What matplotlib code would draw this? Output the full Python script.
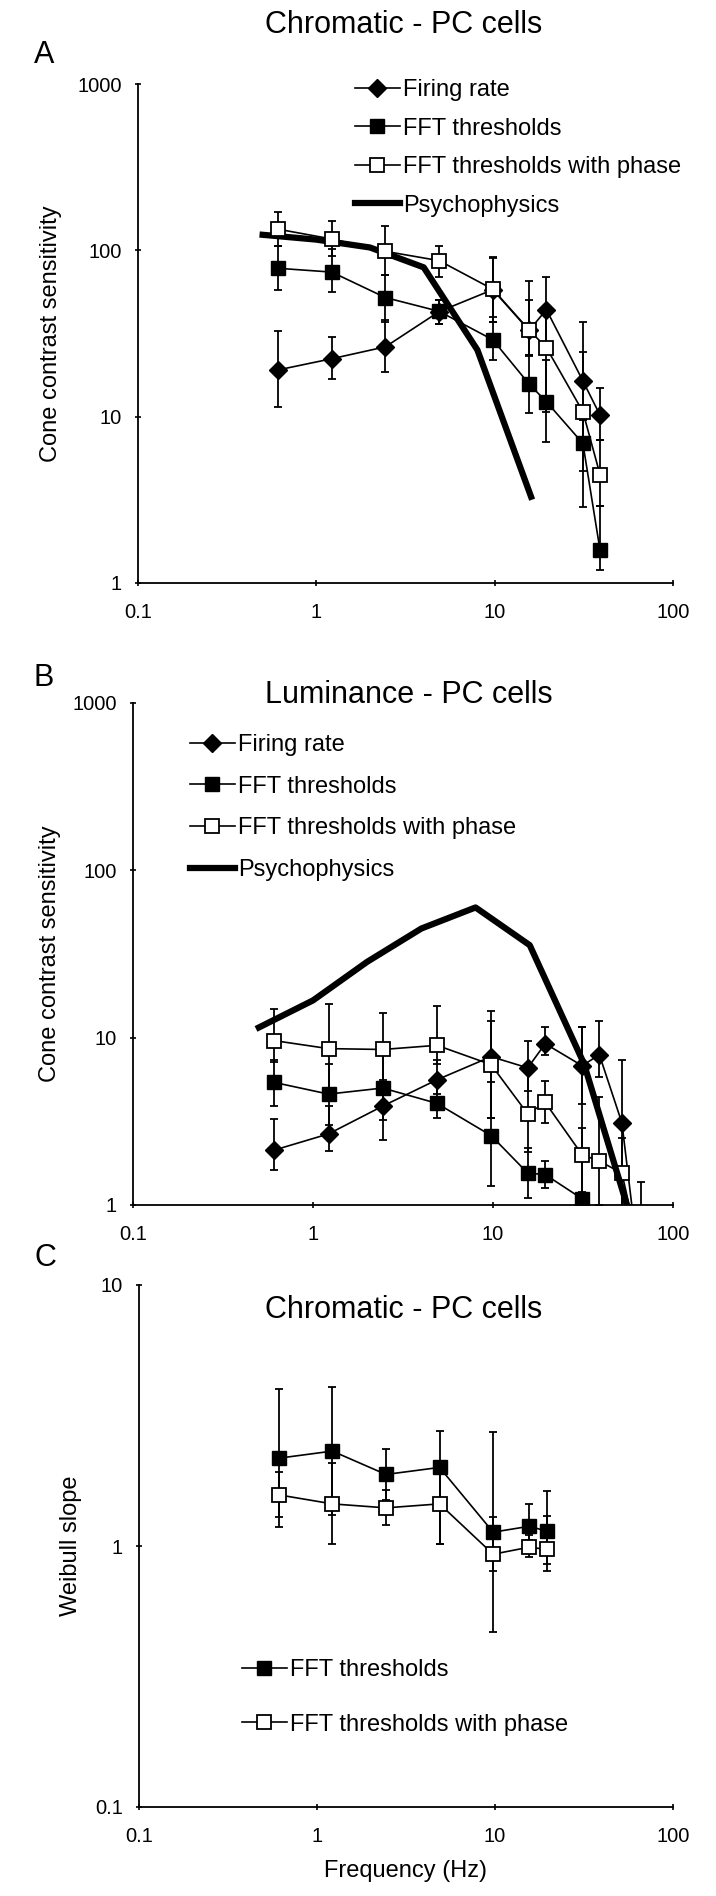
import matplotlib
matplotlib.use('Agg')
import matplotlib.pyplot as plt
from matplotlib.lines import Line2D

plt.rcParams['font.family'] = ['Liberation Sans', 'DejaVu Sans']

W, H = 716, 1896

# ---------------- data ----------------
freq = [0.61, 1.22, 2.44, 4.88, 9.76, 15.6, 19.5, 31.25, 39.0]

# Panel A: chromatic
A_fire = [19.1, 22.3, 26.3, 42.8, 58.0, 33.0, 44.0, 16.4, 10.2]
A_fire_lo = [11.5, 16.8, 18.6, 36.0, 37.0, 23.0, 26.0, 9.5, 7.2]
A_fire_hi = [32.6, 30.0, 38.0, 50.0, 90.0, 50.0, 69.6, 37.0, 14.8]

A_fft = [78.0, 74.0, 52.0, 43.0, 29.0, 15.7, 12.3, 6.9, 1.57]
A_fft_lo = [58.0, 56.0, 37.0, 36.0, 22.0, 10.5, 7.0, 2.85, 1.2]
A_fft_hi = [106.0, 102.0, 71.0, 50.0, 40.0, 23.4, 22.0, 11.0, 2.9]

A_ph = [134.0, 117.0, 98.6, 86.7, 58.4, 33.2, 26.0, 10.7, 4.47]
A_ph_lo = [106.0, 92.0, 71.0, 69.0, 37.0, 23.6, 10.7, 4.7, 2.9]
A_ph_hi = [170.0, 150.0, 141.0, 106.0, 90.6, 65.0, 45.0, 24.6, 7.2]

psy_freq_A = [0.5, 1.0, 2.0, 4.0, 8.0, 16.0]
psy_A = [124.0, 116.0, 104.0, 79.0, 25.2, 3.3]

# Panel B: luminance
freq_B_fire = [0.61, 1.22, 2.44, 4.88, 9.76, 15.6, 19.5, 31.25, 39.0, 52.0, 62.5]
B_fire = [2.13, 2.66, 3.9, 5.6, 7.7, 6.6, 9.2, 6.8, 7.9, 3.1, 0.6]
B_fire_lo = [1.61, 2.1, 2.46, 4.6, 3.3, 4.8, 7.9, 4.0, 5.8, 0.5, 0.4]
B_fire_hi = [3.26, 3.9, 5.6, 7.4, 12.6, 9.6, 11.6, 11.6, 12.6, 7.4, 0.9]

freq_B_fft = [0.61, 1.22, 2.44, 4.88, 9.76, 15.6, 19.5, 31.25, 39.0]
B_fft = [5.4, 4.6, 5.0, 4.05, 2.6, 1.55, 1.52, 1.09, 0.6]
B_fft_lo = [3.9, 3.0, 3.2, 3.3, 1.3, 1.1, 1.27, 0.5, 0.3]
B_fft_hi = [7.4, 7.0, 8.5, 5.4, 5.4, 2.2, 1.83, 2.9, 0.9]

freq_B_ph = [0.61, 1.22, 2.44, 4.88, 9.76, 15.6, 19.5, 31.25, 39.0, 52.0, 66.0]
B_ph = [9.6, 8.6, 8.5, 9.0, 6.9, 3.5, 4.1, 2.0, 1.83, 1.55, 0.5]
B_ph_lo = [7.2, 5.0, 5.0, 7.0, 3.3, 2.07, 3.1, 1.2, 1.0, 0.8, 0.3]
B_ph_hi = [14.9, 15.8, 14.0, 15.5, 14.5, 6.4, 5.5, 11.6, 4.4, 2.5, 1.38]

psy_freq_B = [0.5, 1.0, 2.0, 4.0, 8.0, 16.0, 32.0, 64.0]
psy_B = [11.5, 16.7, 28.4, 44.9, 60.0, 35.7, 7.0, 0.6]

# Panel C: Weibull slope
freq_C = [0.61, 1.22, 2.44, 4.88, 9.76, 15.6, 19.5]
C_fft = [2.17, 2.31, 1.88, 2.0, 1.13, 1.19, 1.14]
C_fft_lo = [1.29, 1.32, 1.5, 1.02, 0.8, 1.05, 0.85]
C_fft_hi = [4.0, 4.08, 2.35, 2.76, 2.74, 1.45, 1.62]

C_ph = [1.57, 1.45, 1.40, 1.45, 0.93, 0.99, 0.97]
C_ph_lo = [1.18, 1.02, 1.2, 1.02, 0.47, 0.91, 0.8]
C_ph_hi = [1.92, 2.08, 1.64, 1.95, 1.29, 1.1, 1.3]

x_ticks = [0.1, 1, 10, 100]
x_ticklabels = ['0.1', '1', '10', '100']
y_ticks_AB = [1, 10, 100, 1000]
y_ticklabels_AB = ['1', '10', '100', '1000']
y_ticks_C = [0.1, 1, 10]
y_ticklabels_C = ['0.1', '1', '10']

labels = ['Firing rate', 'FFT thresholds', 'FFT thresholds with phase', 'Psychophysics']

# ---------------- styles ----------------
fig = plt.figure(figsize=(W / 100, H / 100), dpi=100)

def add_ax(left, right, top, bottom):
    return fig.add_axes([left / W, 1 - bottom / H, (right - left) / W, (bottom - top) / H])

STY = {
    'fire': dict(marker='D', ms=9, mfc='black', mec='black'),
    'fft': dict(marker='s', ms=10.5, mfc='black', mec='black'),
    'ph': dict(marker='s', ms=9.5, mfc='white', mec='black', mew=1.3),
}

def series(ax, x, y, lo, hi, key, z):
    yerr = [[a - b for a, b in zip(y, lo)], [b - a for a, b in zip(y, hi)]]
    ax.errorbar(x, y, yerr=yerr, color='black', lw=1.2, elinewidth=1.3,
                capsize=3.2, capthick=1.3, zorder=z, **STY[key])

def style_axes(ax, yticks, ylabels, ylim, left_px, width_px, ylab_px, ylab):
    ax.set_xscale('log')
    ax.set_yscale('log')
    ax.set_xlim(0.1, 100)
    ax.set_ylim(*ylim)
    ax.set_xticks(x_ticks)
    ax.set_xticklabels(x_ticklabels)
    ax.set_yticks(yticks)
    ax.set_yticklabels(ylabels)
    ax.minorticks_off()
    for s in ['top', 'right']:
        ax.spines[s].set_visible(False)
    for s in ['left', 'bottom']:
        ax.spines[s].set_linewidth(1.3)
    ax.tick_params(axis='both', direction='inout', length=5, width=1.2, labelsize=14.5)
    ax.tick_params(axis='x', pad=12)
    ax.tick_params(axis='y', pad=9)
    ax.set_ylabel(ylab, fontsize=17)
    ax.yaxis.set_label_coords((ylab_px + 11 - left_px) / width_px, 0.5)

def legend_handles(keys):
    hs = []
    for k in keys:
        if k == 'psy':
            hs.append(Line2D([], [], color='black', lw=4.5))
        else:
            hs.append(Line2D([], [], color='black', lw=1.2, **STY[k]))
    return hs

# ---------------- Panel A ----------------
axA = add_ax(138, 673, 84, 583)
style_axes(axA, y_ticks_AB, y_ticklabels_AB, (1, 1000), 138, 535, 51, 'Cone contrast sensitivity')
axA.plot(psy_freq_A, psy_A, color='black', lw=4.5, zorder=2)
series(axA, freq, A_fire, A_fire_lo, A_fire_hi, 'fire', 3)
series(axA, freq, A_fft, A_fft_lo, A_fft_hi, 'fft', 4)
series(axA, freq, A_ph, A_ph_lo, A_ph_hi, 'ph', 5)
axA.legend(legend_handles(['fire', 'fft', 'ph', 'psy']), labels, loc='upper left',
           bbox_to_anchor=(355 / W, 1 - 79 / H), bbox_transform=fig.transFigure,
           frameon=False, fontsize=17, handlelength=1.9, handletextpad=0.15,
           labelspacing=0.7, numpoints=1, borderpad=0, borderaxespad=0)
fig.text(404 / W, 1 - 25 / H, 'Chromatic - PC cells', fontsize=22, ha='center', va='center')
fig.text(34 / W, 1 - 55 / H, 'A', fontsize=22, ha='left', va='center')

# ---------------- Panel B ----------------
axB = add_ax(133, 673, 703, 1205)
style_axes(axB, y_ticks_AB, y_ticklabels_AB, (1, 1000), 133, 540, 50, 'Cone contrast sensitivity')
axB.plot(psy_freq_B, psy_B, color='black', lw=4.5, zorder=6)
series(axB, freq_B_fire, B_fire, B_fire_lo, B_fire_hi, 'fire', 3)
series(axB, freq_B_fft, B_fft, B_fft_lo, B_fft_hi, 'fft', 4)
series(axB, freq_B_ph, B_ph, B_ph_lo, B_ph_hi, 'ph', 5)
axB.legend(legend_handles(['fire', 'fft', 'ph', 'psy']), labels, loc='upper left',
           bbox_to_anchor=(190 / W, 1 - 734 / H), bbox_transform=fig.transFigure,
           frameon=False, fontsize=17, handlelength=1.9, handletextpad=0.15,
           labelspacing=0.83, numpoints=1, borderpad=0, borderaxespad=0)
fig.text(409 / W, 1 - 695 / H, 'Luminance - PC cells', fontsize=22, ha='center', va='center')
fig.text(34 / W, 1 - 678 / H, 'B', fontsize=22, ha='left', va='center')

# ---------------- Panel C ----------------
axC = add_ax(139, 673, 1285, 1807)
style_axes(axC, y_ticks_C, y_ticklabels_C, (0.1, 10), 139, 534, 71, 'Weibull slope')
series(axC, freq_C, C_fft, C_fft_lo, C_fft_hi, 'fft', 4)
series(axC, freq_C, C_ph, C_ph_lo, C_ph_hi, 'ph', 5)
axC.set_xlabel('Frequency (Hz)', fontsize=17, labelpad=10)
axC.legend(legend_handles(['fft', 'ph']), labels[1:3], loc='upper left',
           bbox_to_anchor=(242 / W, 1 - 1659 / H), bbox_transform=fig.transFigure,
           frameon=False, fontsize=17, handlelength=1.9, handletextpad=0.15,
           labelspacing=1.38, numpoints=1, borderpad=0, borderaxespad=0)
fig.text(404 / W, 1 - 1310 / H, 'Chromatic - PC cells', fontsize=22, ha='center', va='center')
fig.text(34 / W, 1 - 1258 / H, 'C', fontsize=22, ha='left', va='center')

fig.savefig('out.png', dpi=100)
